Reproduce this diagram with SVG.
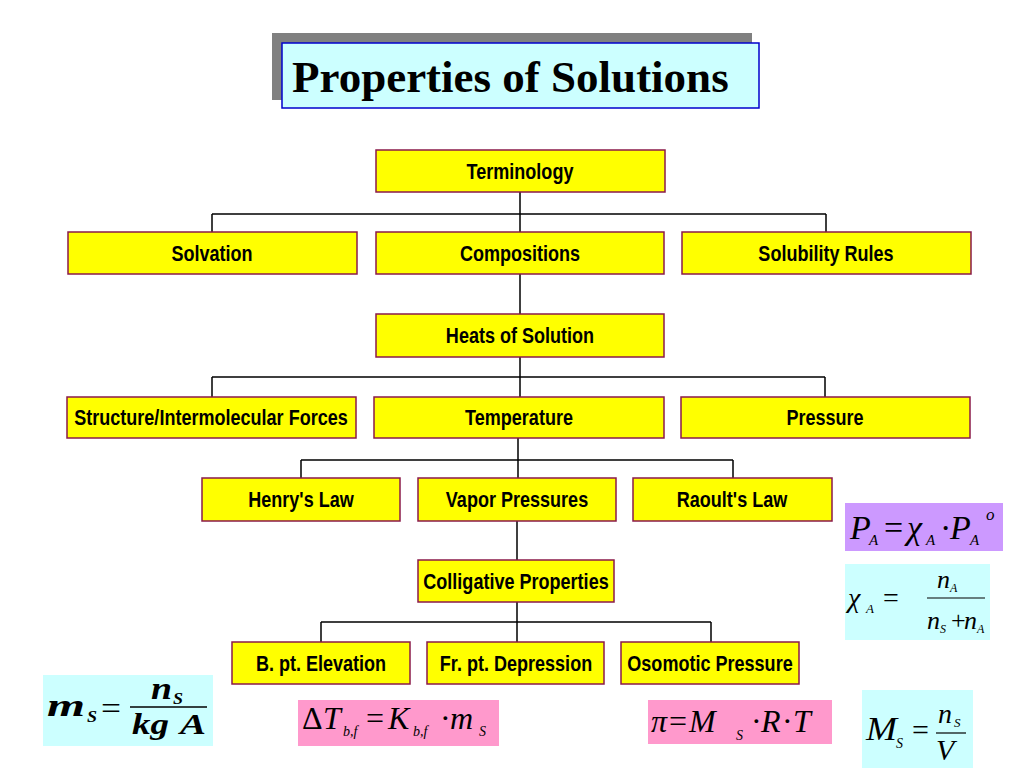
<svg xmlns="http://www.w3.org/2000/svg" width="1024" height="768" viewBox="0 0 1024 768">
<style>
.box{fill:#FFFF00;stroke:#8B1A4A;stroke-width:1.5}
.lbl{font-family:"Liberation Sans",Arial,sans-serif;font-weight:bold;font-size:22px;text-anchor:middle;fill:#000}
.con{fill:none;stroke:#000;stroke-width:1.5}
.m{font-family:"Liberation Serif","Times New Roman",serif;font-style:italic;fill:#000}
.r{font-family:"Liberation Serif","Times New Roman",serif;font-style:normal;fill:#000}
.cyan{fill:#CCFFFF}
.pink{fill:#FF99CC}
.purple{fill:#CC99FF}
</style>
<rect width="1024" height="768" fill="#FFFFFF"/>

<g id="title">
<rect x="272" y="33" width="480" height="67" fill="#808080"/>
<rect x="282" y="43" width="477" height="65" fill="#CCFFFF" stroke="#0000CC" stroke-width="1.5"/>
<text x="292" y="92" font-family="'Liberation Serif','Times New Roman',serif" font-weight="bold" font-size="45" fill="#000">Properties of Solutions</text>
</g>

<g id="connectors">
<path class="con" d="M520 192V232M212 214H826M212 214V232M826 214V232"/>
<path class="con" d="M520 274V314"/>
<path class="con" d="M520 357V397M212 377H825M212 377V397M825 377V397"/>
<path class="con" d="M518 438V478M301 460H733M301 460V478M733 460V478"/>
<path class="con" d="M517 521V560"/>
<path class="con" d="M517 602V642M321 622H711M321 622V642M711 622V642"/>
</g>

<g id="terminology"><rect class="box" x="376" y="150" width="289" height="42"/><text class="lbl" transform="translate(520 179) scale(0.82 1)">Terminology</text></g>
<g id="solvation"><rect class="box" x="68" y="232" width="289" height="42"/><text class="lbl" transform="translate(212 261) scale(0.82 1)">Solvation</text></g>
<g id="compositions"><rect class="box" x="376" y="232" width="288" height="42"/><text class="lbl" transform="translate(520 261) scale(0.82 1)">Compositions</text></g>
<g id="solubility-rules"><rect class="box" x="682" y="232" width="289" height="42"/><text class="lbl" transform="translate(826 261) scale(0.82 1)">Solubility Rules</text></g>
<g id="heats-of-solution"><rect class="box" x="376" y="314" width="288" height="43"/><text class="lbl" transform="translate(520 343) scale(0.82 1)">Heats of Solution</text></g>
<g id="structure"><rect class="box" x="67" y="397" width="289" height="41"/><text class="lbl" transform="translate(211 425) scale(0.82 1)">Structure/Intermolecular Forces</text></g>
<g id="temperature"><rect class="box" x="374" y="397" width="290" height="41"/><text class="lbl" transform="translate(519 425) scale(0.82 1)">Temperature</text></g>
<g id="pressure"><rect class="box" x="681" y="397" width="289" height="41"/><text class="lbl" transform="translate(825 425) scale(0.82 1)">Pressure</text></g>
<g id="henrys-law"><rect class="box" x="202" y="478" width="198" height="43"/><text class="lbl" transform="translate(301 507) scale(0.82 1)">Henry's Law</text></g>
<g id="vapor-pressures"><rect class="box" x="418" y="478" width="198" height="43"/><text class="lbl" transform="translate(517 507) scale(0.82 1)">Vapor Pressures</text></g>
<g id="raoults-law"><rect class="box" x="633" y="478" width="199" height="43"/><text class="lbl" transform="translate(732 507) scale(0.82 1)">Raoult's Law</text></g>
<g id="colligative-properties"><rect class="box" x="418" y="560" width="196" height="42"/><text class="lbl" transform="translate(516 589) scale(0.82 1)">Colligative Properties</text></g>
<g id="bpt-elevation"><rect class="box" x="232" y="642" width="178" height="42"/><text class="lbl" transform="translate(321 671) scale(0.82 1)">B. pt. Elevation</text></g>
<g id="frpt-depression"><rect class="box" x="427" y="642" width="177" height="42"/><text class="lbl" transform="translate(516 671) scale(0.82 1)">Fr. pt. Depression</text></g>
<g id="osmotic-pressure"><rect class="box" x="621" y="642" width="178" height="42"/><text class="lbl" transform="translate(710 671) scale(0.82 1)">Osomotic Pressure</text></g>

<g id="eq-raoult">
<rect class="purple" x="845" y="503" width="158" height="48"/>
<text class="m" x="850" y="539" font-size="34">P</text>
<text class="m" x="869" y="545" font-size="15">A</text>
<text class="r" x="884" y="539" font-size="34">=</text>
<text class="m" x="907" y="539" font-size="34">χ</text>
<text class="m" x="926" y="545" font-size="15">A</text>
<text class="r" x="940" y="539" font-size="34">·</text>
<text class="m" x="950" y="539" font-size="34">P</text>
<text class="m" x="970" y="545" font-size="15">A</text>
<text class="m" x="986" y="520" font-size="17">o</text>
</g>

<g id="eq-molefraction">
<rect class="cyan" x="845" y="564" width="145" height="76"/>
<text class="m" x="848" y="607" font-size="28">χ</text>
<text class="m" x="866" y="613" font-size="13">A</text>
<text class="r" x="883" y="607" font-size="28">=</text>
<line x1="927" y1="598" x2="985" y2="598" stroke="#000" stroke-width="1.2"/>
<text class="m" x="937" y="588" font-size="26">n</text>
<text class="m" x="950" y="592" font-size="12">A</text>
<text class="m" x="927" y="629" font-size="26">n</text>
<text class="m" x="940" y="633" font-size="12">S</text>
<text class="r" x="951" y="629" font-size="26">+</text>
<text class="m" x="964" y="629" font-size="26">n</text>
<text class="m" x="977" y="633" font-size="12">A</text>
</g>

<g id="eq-molality">
<rect class="cyan" x="43" y="675" width="170" height="71"/>
<text class="m" x="47" y="716" font-size="32" font-weight="bold" textLength="38" lengthAdjust="spacingAndGlyphs">m</text>
<text class="m" x="87" y="722" font-size="16" font-weight="bold" textLength="10" lengthAdjust="spacingAndGlyphs">S</text>
<text class="r" x="101" y="719" font-size="32" textLength="20" lengthAdjust="spacingAndGlyphs">=</text>
<line x1="130" y1="707" x2="207" y2="707" stroke="#000" stroke-width="1.5"/>
<text class="m" x="151" y="699" font-size="32" font-weight="bold" textLength="21" lengthAdjust="spacingAndGlyphs">n</text>
<text class="m" x="173" y="704" font-size="16" font-weight="bold" textLength="10" lengthAdjust="spacingAndGlyphs">S</text>
<text class="m" x="132" y="734" font-size="30" font-weight="bold" textLength="37" lengthAdjust="spacingAndGlyphs">kg</text>
<text class="m" x="180" y="734" font-size="30" font-weight="bold" textLength="26" lengthAdjust="spacingAndGlyphs">A</text>
</g>

<g id="eq-deltaT">
<rect class="pink" x="298" y="700" width="201" height="46"/>
<text class="r" x="302" y="729" font-size="32">Δ</text>
<text class="m" x="323" y="729" font-size="32">T</text>
<text class="m" x="343" y="736" font-size="14">b,f</text>
<text class="r" x="366" y="729" font-size="32">=</text>
<text class="m" x="388" y="729" font-size="32">K</text>
<text class="m" x="413" y="736" font-size="14">b,f</text>
<text class="r" x="440" y="729" font-size="32">·</text>
<text class="m" x="450" y="729" font-size="32">m</text>
<text class="m" x="479" y="736" font-size="14">S</text>
</g>

<g id="eq-osmotic">
<rect class="pink" x="648" y="700" width="184" height="44"/>
<text class="m" x="651" y="732" font-size="32">π</text>
<text class="r" x="669" y="732" font-size="32">=</text>
<text class="m" x="689" y="732" font-size="32">M</text>
<text class="m" x="736" y="740" font-size="14">S</text>
<text class="r" x="751" y="732" font-size="32">·</text>
<text class="m" x="761" y="732" font-size="32">R</text>
<text class="r" x="782" y="732" font-size="32">·</text>
<text class="m" x="793" y="732" font-size="32">T</text>
</g>

<g id="eq-molarity">
<rect class="cyan" x="862" y="690" width="111" height="78"/>
<text class="m" x="866" y="740" font-size="34" textLength="31" lengthAdjust="spacingAndGlyphs">M</text>
<text class="m" x="896" y="748" font-size="14">S</text>
<text class="r" x="912" y="740" font-size="30">=</text>
<line x1="936" y1="733" x2="966" y2="733" stroke="#000" stroke-width="1.2"/>
<text class="m" x="938" y="723" font-size="28">n</text>
<text class="m" x="954" y="727" font-size="13">S</text>
<text class="m" x="936" y="760" font-size="30">V</text>
</g>
</svg>
